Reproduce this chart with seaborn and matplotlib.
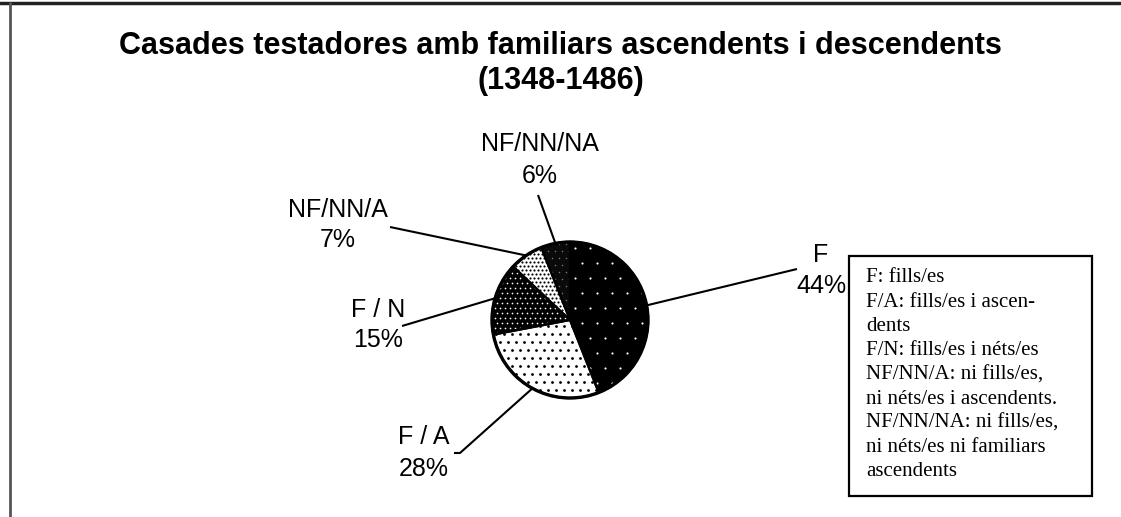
import numpy as np
import matplotlib
matplotlib.use("Agg")
import matplotlib.pyplot as plt
import seaborn as sns
from matplotlib.patches import Rectangle

# ---- data ----
categories = ["F", "F / A", "F / N", "NF/NN/A", "NF/NN/NA"]
percent = [44, 28, 15, 7, 6]
title_lines = ["Casades testadores amb familiars ascendents i descendents", "(1348-1486)"]
legend_lines = [
    "F: fills/es",
    "F/A: fills/es i ascen-",
    "dents",
    "F/N: fills/es i néts/es",
    "NF/NN/A: ni fills/es,",
    "ni néts/es i ascendents.",
    "NF/NN/NA: ni fills/es,",
    "ni néts/es ni familiars",
    "ascendents",
]

sns.set_theme(style="white")
plt.rcParams["font.family"] = ["Liberation Sans", "DejaVu Sans"]

W, H = 1121, 517
fig = plt.figure(figsize=(W / 100, H / 100), dpi=100)
ax = fig.add_axes([0, 0, 1, 1])

def Y(y):  # image y (top-down) -> axes y (bottom-up)
    return H - y

cx, cy, R = 570, Y(320), 78

# face colour, dot colour, dot spacing(px), dot size (pt^2)
textures = {
    "F": ("black", "white", 15, 2.4),
    "F / A": ("white", "black", 8, 4.0),
    "F / N": ("black", "white", 5, 1.5),
    "NF/NN/A": ("white", "black", 4, 2.4),
    "NF/NN/NA": ("#0a0a0a", "#777777", 7, 1.2),
}

wedges, _ = ax.pie(percent, startangle=90, counterclock=False, center=(cx, cy),
                   radius=R, colors=[textures[c][0] for c in categories],
                   wedgeprops=dict(linewidth=0))

for w, cat in zip(wedges, categories):
    face, dcol, sp, sz = textures[cat]
    xs, ys = [], []
    rows = np.arange(cy - R - sp, cy + R + sp, sp)
    for i, yy in enumerate(rows):
        off = (sp / 2) * (i % 2)
        cols = np.arange(cx - R - sp, cx + R + sp, sp) + off
        xs.extend(cols)
        ys.extend([yy] * len(cols))
    sc = ax.scatter(xs, ys, s=sz, c=dcol, linewidths=0, zorder=3)
    sc.set_clip_path(w)

# outlines
outl, _ = ax.pie(percent, startangle=90, counterclock=False, center=(cx, cy),
                 radius=R, wedgeprops=dict(fill=False, edgecolor="black", linewidth=1.6))
for o in outl:
    o.set_zorder(4)
circle = plt.Circle((cx, cy), R, fill=False, edgecolor="black", linewidth=2.4, zorder=5)
ax.add_patch(circle)

# label layout (image coords): line end, text centre x, text y (two rows), tick
layout = {
    "F": ((797, 269), 821, (255, 286), None),
    "F / A": ((460, 453), 424, (437, 469), 454),
    "F / N": ((402, 326), 378, (310, 340), None),
    "NF/NN/A": ((390, 227), 338, (210, 240), None),
    "NF/NN/NA": ((538, 195), 540, (144, 176), None),
}

for w, cat, p in zip(wedges, categories, percent):
    ang = np.deg2rad((w.theta1 + w.theta2) / 2)
    sx, sy = cx + R * np.cos(ang), cy + R * np.sin(ang)
    (ex, ey), tx, (ty1, ty2), tick = layout[cat]
    xs_l = [sx, ex]
    ys_l = [sy, Y(ey)]
    if tick is not None:
        xs_l.append(tick)
        ys_l.append(Y(ey))
    ax.plot(xs_l, ys_l, color="black", linewidth=1.5, zorder=2, solid_capstyle="butt")
    ax.text(tx, Y(ty1), cat, ha="center", va="center", fontsize=18, color="black")
    ax.text(tx, Y(ty2), f"{p}%", ha="center", va="center", fontsize=18, color="black")

# title
ax.text(W / 2, Y(46), title_lines[0], ha="center", va="center", fontsize=22,
        fontweight="bold", color="black")
ax.text(W / 2, Y(81), title_lines[1], ha="center", va="center", fontsize=22,
        fontweight="bold", color="black")

# legend box
ax.add_patch(Rectangle((849, Y(496)), 243, 240, fill=False, edgecolor="black",
                       linewidth=1.6, zorder=6))
for i, line in enumerate(legend_lines):
    ax.text(866, Y(278 + i * 24.2), line, ha="left", va="center", fontsize=15,
            family=["Liberation Serif", "DejaVu Serif"], color="black", zorder=7)

# page frame (top & left)
ax.plot([0, W], [Y(3), Y(3)], color="#222222", linewidth=2.5)
ax.plot([10, 10], [0, Y(3)], color="#555555", linewidth=2.0)

ax.set_xlim(0, W)
ax.set_ylim(0, H)
ax.set_aspect("equal")
ax.axis("off")

fig.savefig("out.png", dpi=100, facecolor="white")
